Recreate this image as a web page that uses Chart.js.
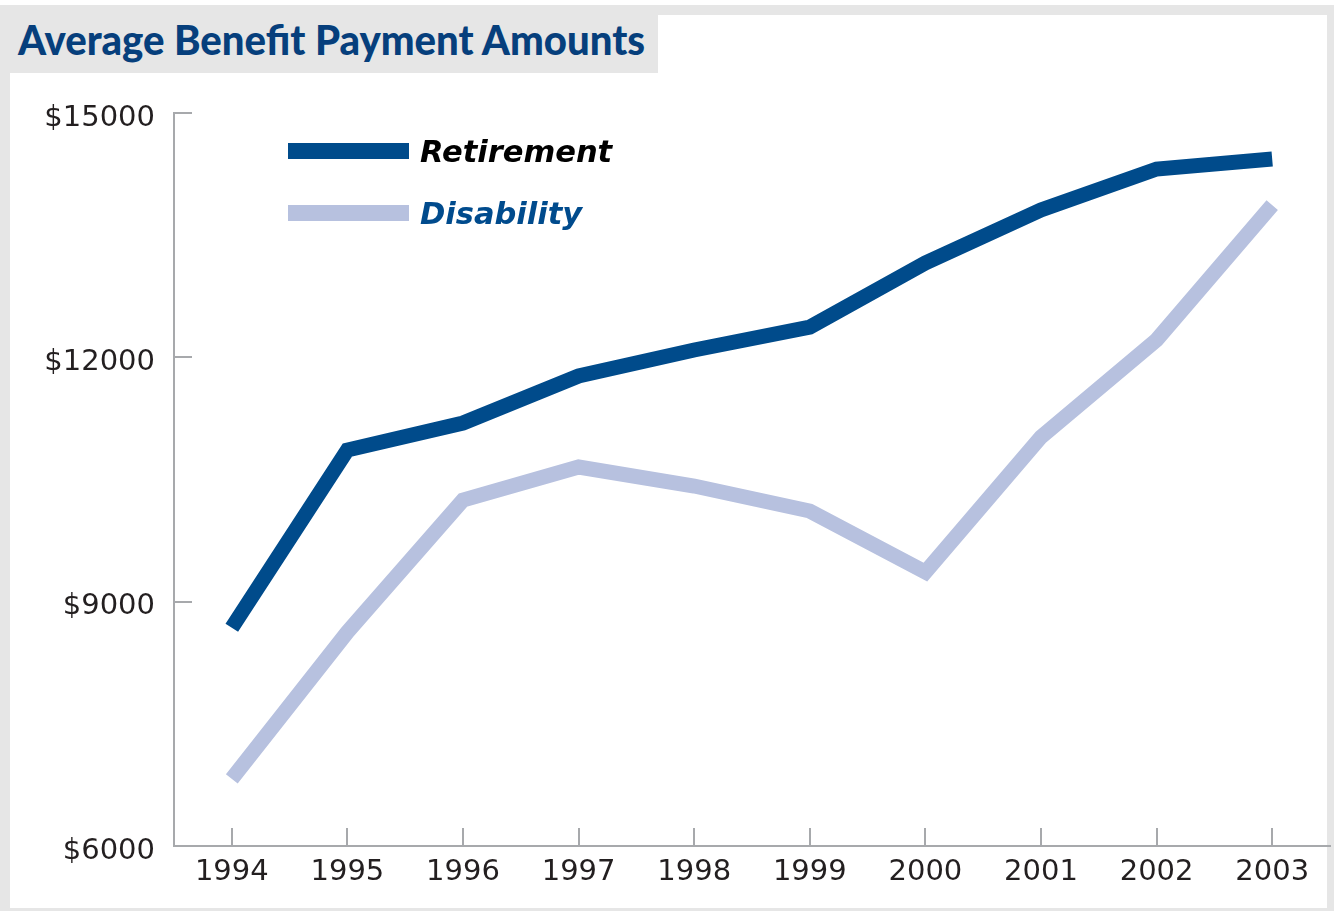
<!DOCTYPE html>
<html>
<head>
<meta charset="utf-8">
<title>Average Benefit Payment Amounts</title>
<script src="https://cdn.jsdelivr.net/npm/chart.js@4.4.0/dist/chart.umd.min.js"></script>
<style>
  html, body { margin: 0; padding: 0; background: #fff; }
  body { width: 1334px; height: 911px; position: relative; overflow: hidden; }
  #frame { position: absolute; left: 0; top: 5px; width: 1334px; height: 906px; background: #e6e6e6; }
  #inner { position: absolute; left: 10px; top: 15px; width: 1317px; height: 893px; background: #fff; }
  #title { position: absolute; left: 10px; top: 15px; width: 648px; height: 58px; background: #e6e6e6; }
  #title span {
    position: absolute; left: 8px; top: 4px;
    font: 900 41px 'Lato', 'DejaVu Sans', sans-serif;
    line-height: 41px; color: #063f7c; white-space: nowrap;
    transform-origin: left center;
  }
  #chart { position: absolute; left: 0; top: 0; }
  #legend { position: absolute; left: 288px; top: 120px; }
  .legend-row { display: flex; align-items: center; height: 62px; }
  .legend-swatch { width: 121px; height: 16px; margin-right: 11px; }
  .legend-text { font: italic bold 30.5px 'DejaVu Sans', sans-serif; line-height: 31px; white-space: nowrap; }
</style>
</head>
<body>
<div id="frame"></div>
<div id="inner"></div>
<div id="title"><span>Average Benefit Payment Amounts</span></div>
<canvas id="chart" width="1334" height="911"></canvas>
<div id="legend"></div>
<script>
  // Chart data
  const years = ['1994', '1995', '1996', '1997', '1998', '1999', '2000', '2001', '2002', '2003'];
  const retirement = [8680, 10862, 11194, 11771, 12090, 12372, 13158, 13809, 14312, 14435];
  const disability = [6823, 8627, 10248, 10653, 10420, 10113, 9364, 11022, 12213, 13870];
  const yTicks = [6000, 9000, 12000, 15000];
  const seriesNames = ['Retirement', 'Disability'];
  const seriesColors = ['#004b8b', '#b7c1df'];
  const legendTextColors = ['#000000', '#004b8d'];

  // Fit the title to the width of the grey box
  const titleSpan = document.querySelector('#title span');
  titleSpan.style.transform = 'scaleX(' + (627 / titleSpan.offsetWidth) + ')';

  const axisColor = '#a7a9ac';
  const labelFont = { family: 'DejaVu Sans', size: 29 };

  // Legend built from the chart's datasets
  const htmlLegend = {
    id: 'htmlLegend',
    afterUpdate(chart) {
      const box = document.getElementById('legend');
      box.innerHTML = '';
      chart.data.datasets.forEach((ds, i) => {
        const row = document.createElement('div');
        row.className = 'legend-row';
        const swatch = document.createElement('div');
        swatch.className = 'legend-swatch';
        swatch.style.background = ds.borderColor;
        const text = document.createElement('div');
        text.className = 'legend-text';
        text.style.color = legendTextColors[i];
        text.textContent = ds.label;
        row.appendChild(swatch);
        row.appendChild(text);
        box.appendChild(row);
      });
    }
  };

  new Chart(document.getElementById('chart'), {
    type: 'line',
    data: {
      labels: years,
      datasets: [
        { label: seriesNames[0], data: retirement, borderColor: seriesColors[0], borderWidth: 15 },
        { label: seriesNames[1], data: disability, borderColor: seriesColors[1], borderWidth: 15 }
      ]
    },
    options: {
      responsive: false,
      animation: false,
      layout: { padding: { left: 0, top: 113, right: 4, bottom: 5 } },
      plugins: { legend: { display: false }, tooltip: { enabled: false } },
      elements: {
        point: { radius: 0 },
        line: { tension: 0, borderJoinStyle: 'miter', borderCapStyle: 'butt', fill: false }
      },
      scales: {
        x: {
          offset: true,
          grid: { drawOnChartArea: false, tickLength: -18, color: axisColor, lineWidth: 2, tickWidth: 2 },
          border: { color: axisColor, width: 2 },
          ticks: { font: labelFont, color: '#231f20', padding: 27, maxRotation: 0, autoSkip: false },
          afterFit(scale) {
            scale.height = 60;
            scale.paddingLeft = 0;
            scale.paddingRight = 0;
          }
        },
        y: {
          min: 6000,
          max: 15000,
          afterBuildTicks(scale) {
            scale.ticks = yTicks.map(v => ({ value: v }));
          },
          grid: { drawOnChartArea: false, tickLength: -18, color: axisColor, lineWidth: 2, tickWidth: 2 },
          border: { color: axisColor, width: 2 },
          ticks: {
            font: labelFont,
            color: '#231f20',
            padding: 37,
            labelOffset: 5,
            callback: value => '$' + value
          },
          afterFit(scale) {
            scale.width = 174;
            scale.paddingTop = 0;
            scale.paddingBottom = 0;
          }
        }
      }
    },
    plugins: [htmlLegend]
  });
</script>
</body>
</html>
